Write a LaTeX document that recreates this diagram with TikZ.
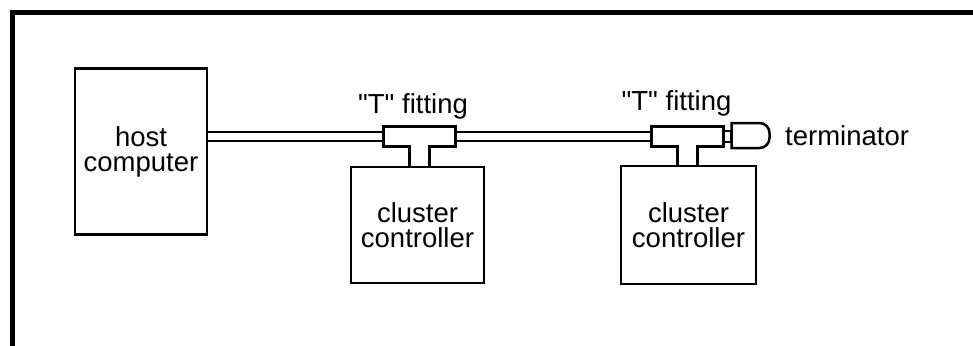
\documentclass[tikz,border=0pt]{standalone}
\usepackage{fontspec}
\setmainfont{Liberation Sans}[Ligatures=TeXOff]
\usetikzlibrary{positioning}

\begin{document}
\begin{tikzpicture}[x=1pt,y=-1pt,node distance=3cm,on grid,
  box/.style={draw,line width=2.5pt,outer sep=0pt,align=center,font=\fontsize{27.5}{25}\selectfont},
  tee/.style={draw,fill=white,line width=2.5pt,outer sep=0pt,inner sep=0pt,minimum width=72pt,minimum height=20pt},
  txt/.style={inner sep=0pt,font=\fontsize{27.5}{25}\selectfont},
  cable/.style={double,double distance=6.5pt,line width=2.2pt,shorten >=1.25pt,shorten <=1.25pt}]

  \useasboundingbox (0,0) rectangle (973,345);
  \draw[line width=4.5pt] (12.5,360) -- (12.5,12.5) -- (990,12.5);

  \node[box,minimum width=132pt,minimum height=166pt] (host) at (141,151.5)          {host\\computer};
  \node[box,minimum width=133pt,minimum height=116pt] (cc1)  [below right=73.5pt and 276.5pt of host] {cluster\\controller};
  \node[box,minimum width=135pt,minimum height=118pt] (cc2)  [right=271pt of cc1]    {cluster\\controller};
  \node[tee]                                           (tee1) [above=88.5pt of cc1,xshift=2pt]  {};
  \node[tee]                                           (tee2) [above=88.5pt of cc2,xshift=-1pt] {};
  \node[draw,line width=2.5pt,outer sep=0pt,minimum width=8pt,minimum height=11pt,inner sep=0pt] (neck) [right=40pt of tee2] {};
  \node[outer sep=0pt,inner sep=0pt,minimum width=38pt,minimum height=25pt] (term) [right=23pt of neck,yshift=1pt] {};

  \node[txt] (fit1) [above=30.5pt of tee1,xshift=-6.5pt] {"T" fitting};
  \node[txt] (fit2) [above=33.5pt of tee2,xshift=-11pt]  {"T" fitting};
  \node[txt,anchor=west] (termlab) at ([xshift=15.5pt]term.east) {terminator};

  % terminator: flat on the left, rounded on the right
  \draw[line width=2.5pt] (term.west) -- (term.north west) [rounded corners=10pt] -- (term.north east)
    -- (term.south east) [sharp corners] -- (term.south west) -- cycle;

  % cable between the boxes
  \path (host.east |- tee1.west) edge[cable] (tee1.west);
  \path (tee1)                   edge[cable] (tee2);

  % stems of the T fittings
  \fill[white] ([xshift=-8.75pt,yshift=-1.5pt]tee1.south) rectangle ([xshift=8.75pt,yshift=1.5pt]tee1.south);
  \fill[white] ([xshift=-8.75pt,yshift=-1.5pt]tee2.south) rectangle ([xshift=8.75pt,yshift=1.5pt]tee2.south);
  \draw[line width=2.5pt] ([xshift=-10pt]tee1.south) -- ([xshift=-10pt]tee1.south |- cc1.north);
  \draw[line width=2.5pt] ([xshift=10pt]tee1.south)  -- ([xshift=10pt]tee1.south |- cc1.north);
  \draw[line width=2.5pt] ([xshift=-10pt]tee2.south) -- ([xshift=-10pt]tee2.south |- cc2.north);
  \draw[line width=2.5pt] ([xshift=10pt]tee2.south)  -- ([xshift=10pt]tee2.south |- cc2.north);
\end{tikzpicture}
\end{document}
